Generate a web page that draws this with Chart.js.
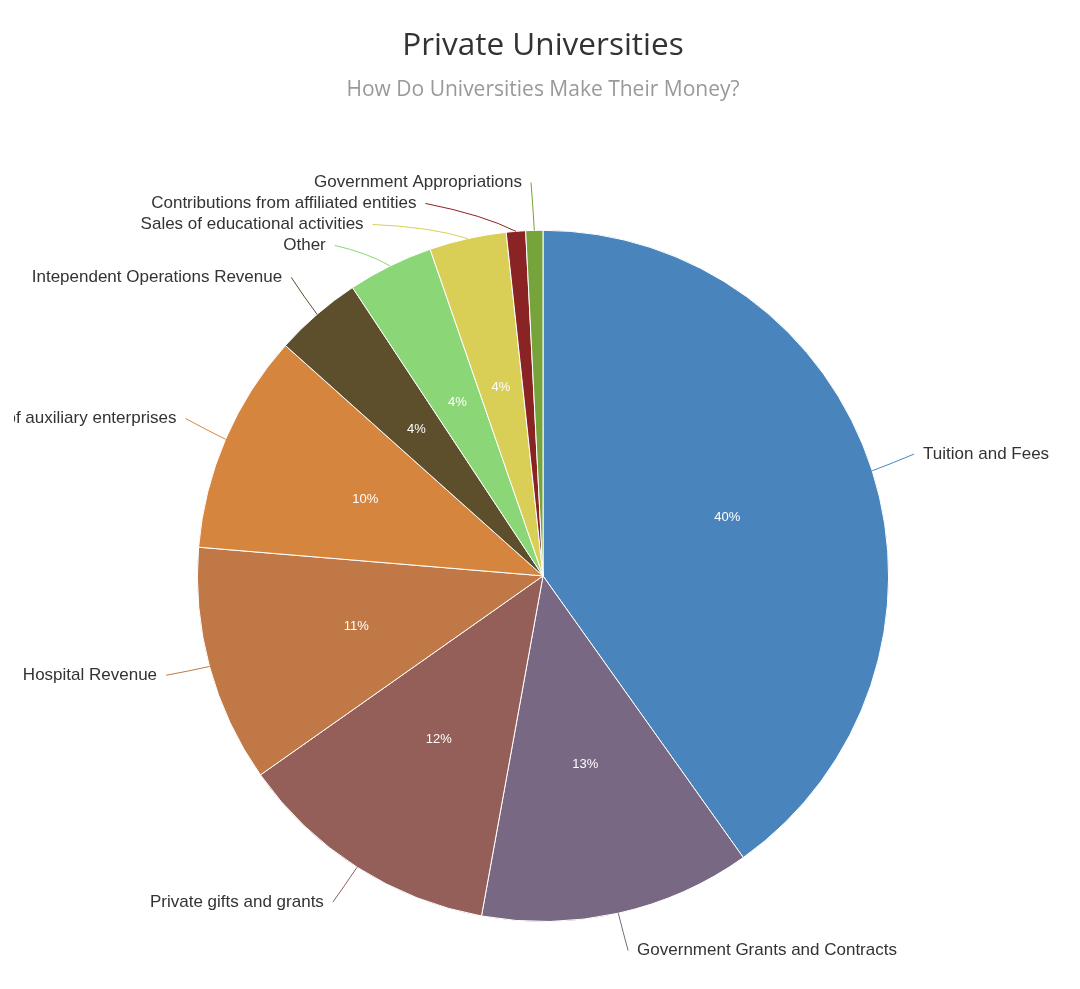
<!DOCTYPE html>
<html>
<head>
<meta charset="utf-8">
<script src="https://cdn.jsdelivr.net/npm/chart.js@4.4.1/dist/chart.umd.min.js"></script>
<style>
  html, body { margin: 0; padding: 0; background: #ffffff; }
  #wrap { width: 1080px; height: 989px; position: relative; }
</style>
</head>
<body>
<div id="wrap"><canvas id="c"></canvas></div>
<script>
// ---- Data ----
const categories = [
  'Tuition and Fees',
  'Government Grants and Contracts',
  'Private gifts and grants',
  'Hospital Revenue',
  'Sales and services of auxiliary enterprises',
  'Intependent Operations Revenue',
  'Other',
  'Sales of educational activities',
  'Contributions from affiliated entities',
  'Government Appropriations'
];
const shares = [40.2, 12.7, 12.4, 11.1, 10.3, 4.1, 4.0, 3.6, 0.9, 0.8];
const sliceColors = [
  '#4A84BC', '#786884', '#935F58', '#C07846', '#D6853E',
  '#5E4F2C', '#8BD676', '#D9CF57', '#8A2323', '#76A33A'
];
const titleText = 'Private Universities';
const subtitleText = 'How Do Universities Make Their Money?';

const LABEL_FONT = '17px "Liberation Sans", Arial, Helvetica, sans-serif';
const INNER_FONT = '13px "Liberation Sans", Arial, Helvetica, sans-serif';

const pieLabels = {
  id: 'pieLabels',
  afterDatasetsDraw(chart) {
    const ctx = chart.ctx;
    const meta = chart.getDatasetMeta(0);
    const data = chart.data.datasets[0].data;
    const total = data.reduce((a, b) => a + b, 0);
    const items = meta.data.map((arc, i) => {
      const p = arc.getProps(['x', 'y', 'startAngle', 'endAngle', 'outerRadius'], true);
      const mid = (p.startAngle + p.endAngle) / 2;
      const R = p.outerRadius + 45;
      return {
        i, cx: p.x, cy: p.y, r: p.outerRadius, R, mid,
        right: Math.cos(mid) >= 0,
        ny: p.y + Math.sin(mid) * R - 3
      };
    });
    if (!items.length) return;
    const cy = items[0].cy, R = items[0].R;
    const top = cy - R - 6, bottom = cy + R - 16, gap = 21;
    [true, false].forEach(side => {
      const group = items.filter(it => it.right === side).sort((a, b) => a.ny - b.ny);
      let prev = -Infinity;
      group.forEach(it => {
        it.ly = Math.max(it.ny, prev + gap, top);
        it.xy = it.ly + (it.ly > cy ? 3 : 0);
        prev = it.ly;
      });
      let next = Infinity;
      for (let k = group.length - 1; k >= 0; k--) {
        const it = group[k];
        it.ly = Math.min(it.ly, bottom, next - gap);
        next = it.ly;
      }
    });
    ctx.save();
    // connectors + outside labels
    items.forEach(it => {
      const dy = it.xy - it.cy;
      const dx = Math.max(12, Math.sqrt(Math.max(0, it.R * it.R - dy * dy)));
      const lx = it.cx + (it.right ? dx : -dx);
      const ly = it.ly;
      const tx = it.cx + Math.cos(it.mid) * it.r;
      const ty = it.cy + Math.sin(it.mid) * it.r;
      const rx = it.cx + Math.cos(it.mid) * (it.r + 22);
      const ry = it.cy + Math.sin(it.mid) * (it.r + 22);
      const qx = 0.7 * (lx + tx) / 2 + 0.3 * rx;
      const qy = 0.7 * (ly + ty) / 2 + 0.3 * ry;
      ctx.beginPath();
      ctx.moveTo(lx, ly);
      ctx.quadraticCurveTo(qx, qy, tx, ty);
      ctx.strokeStyle = sliceColors[it.i];
      ctx.lineWidth = 1;
      ctx.stroke();
      ctx.save();
      ctx.beginPath();
      ctx.rect(14, 0, chart.width - 14, chart.height);
      ctx.clip();
      ctx.font = LABEL_FONT;
      ctx.fillStyle = '#333333';
      ctx.textBaseline = 'middle';
      ctx.textAlign = it.right ? 'left' : 'right';
      ctx.fillText(categories[it.i], lx + (it.right ? 9 : -9), ly);
      ctx.restore();
    });
    // inside percentage labels
    items.forEach(it => {
      const pct = data[it.i] / total * 100;
      if (pct < 2) return;
      const d = it.r * 0.56;
      ctx.font = INNER_FONT;
      ctx.fillStyle = '#ffffff';
      ctx.textAlign = 'center';
      ctx.textBaseline = 'middle';
      ctx.fillText(Math.round(pct) + '%', it.cx + Math.cos(it.mid) * d, it.cy + Math.sin(it.mid) * d);
    });
    ctx.restore();
  }
};

new Chart(document.getElementById('c'), {
  type: 'pie',
  data: {
    labels: categories,
    datasets: [{
      data: shares,
      backgroundColor: sliceColors,
      borderColor: '#ffffff',
      borderWidth: 1
    }]
  },
  options: {
    responsive: true,
    maintainAspectRatio: false,
    animation: false,
    layout: { padding: { top: 0, bottom: 67, left: 6, right: 0 } },
    plugins: {
      legend: { display: false },
      tooltip: { enabled: false },
      title: {
        display: true,
        text: titleText,
        color: '#333333',
        font: { family: '"Open Sans", sans-serif', size: 31.5, weight: 'normal', lineHeight: 1.2 },
        padding: { top: 27, bottom: 11 }
      },
      subtitle: {
        display: true,
        text: subtitleText,
        color: '#999999',
        font: { family: '"Open Sans", sans-serif', size: 21, weight: 'normal', lineHeight: 1.2 },
        padding: { top: 1.4, bottom: 127.4 }
      }
    }
  },
  plugins: [pieLabels]
});
</script>
</body>
</html>
